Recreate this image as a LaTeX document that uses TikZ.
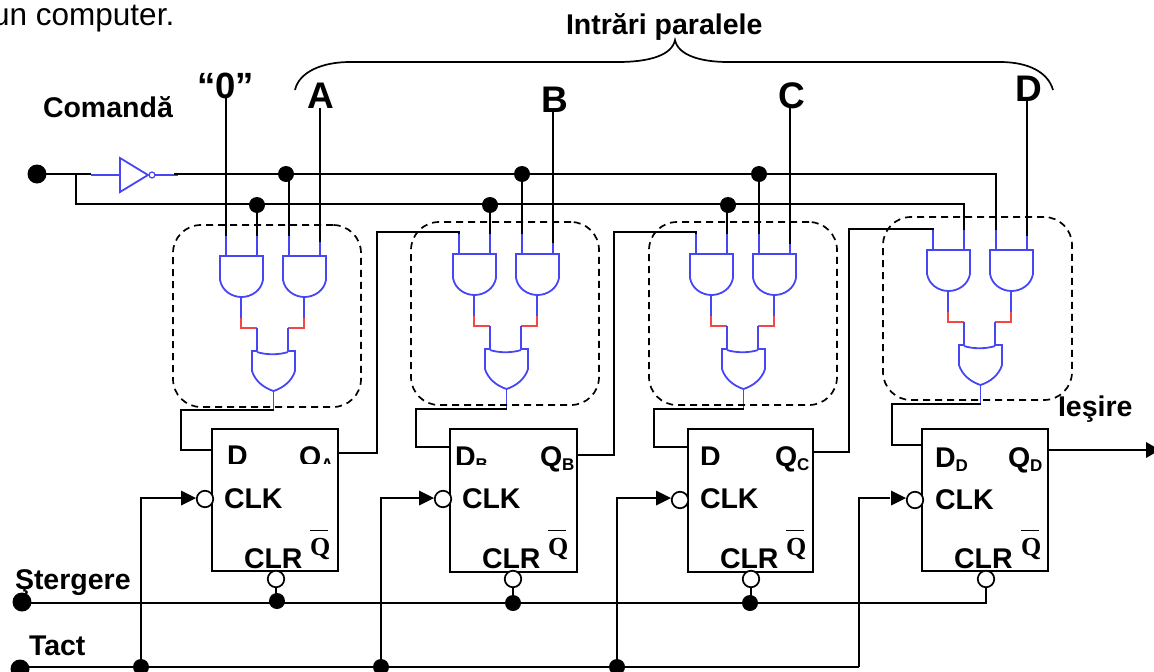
\documentclass[tikz,border=0pt]{standalone}
\usepackage{fontspec}
\setmainfont{Liberation Sans}
\newfontfamily\qfont{Liberation Serif}
\definecolor{gblue}{RGB}{70,70,245}
\definecolor{gred}{RGB}{245,70,70}
\newcommand{\fnt}{\fontsize{28.5}{30}\selectfont\bfseries}
\newcommand{\bigfnt}{\fontsize{37}{38}\selectfont\bfseries}
\newcommand{\sbs}[1]{{\fontsize{17}{17}\selectfont\bfseries\raisebox{-4pt}{#1}}}
\newcommand{\qbar}{{\fontsize{26}{27}\selectfont\qfont\bfseries\rlap{\raisebox{24pt}{\rule{18pt}{1.2pt}}}Q}}
\tikzset{
  x=1pt,y=-1pt,
  wire/.style={draw=black,line width=2pt,line join=miter},
  thick wire/.style={wire,line width=2.4pt},
  gate/.style={draw=gblue,line width=1.8pt},
  red wire/.style={draw=gred,line width=1.8pt},
  lab/.style={inner sep=0pt,outer sep=0pt,anchor=base west,font=\fnt},
  biglab/.style={inner sep=0pt,outer sep=0pt,anchor=base,font=\bigfnt},
  ffbox/.style={draw=black,line width=2pt,fill=none,inner sep=0pt,outer sep=0pt},
  groupbox/.style={draw=black,line width=1.7pt,dash pattern=on 7pt off 5pt,rounded corners=28pt,inner sep=0pt,outer sep=0pt},
  dot/.style={circle,fill=black,draw=none,inner sep=0pt,outer sep=0pt,minimum size=16pt},
  bigdot/.style={dot,minimum size=19pt},
  bubble/.style={circle,draw=black,fill=white,line width=1.7pt,inner sep=0pt,outer sep=0pt,minimum size=16.5pt},
  tip/.style={fill=black,draw=none},
  cell/.pic={
    % first AND gate
    \draw[gate] (-6,0) -- (37,0) -- (37,24) .. controls (35,35) and (25,41) .. (15.5,41) .. controls (6,41) and (-4,35) .. (-6,24) -- cycle;
    % second AND gate
    \draw[gate] (57,0) -- (100,0) -- (100,24) .. controls (98,35) and (88,41) .. (78.5,41) .. controls (69,41) and (59,35) .. (57,24) -- cycle;
    \coordinate (-a) at (0,-20);
    \coordinate (-b) at (31,-20);
    \coordinate (-c) at (63,-20);
    \coordinate (-d) at (94,-20);
    \draw[gate] (-a) -- (0,0);
    \draw[gate] (-b) -- (31,0);
    \draw[gate] (-c) -- (63,0);
    \draw[gate] (-d) -- (94,0);
    \draw[gate] (15,41) -- (15,62);
    \draw[gate] (78,41) -- (78,62);
    \draw[red wire] (15,62) -- (15,72) -- (31,72);
    \draw[red wire] (78,62) -- (78,72) -- (62,72);
    \draw[gate] (31,72) -- (31,95);
    \draw[gate] (62,72) -- (62,95);
    % OR gate
    \draw[gate] (31,95) -- (26,95) -- (26,115) .. controls (29,125) and (38,132) .. (47.5,135) .. controls (57,132) and (66,125) .. (69,115) -- (69,95) -- (62,95);
    \draw[gate] (31,96) .. controls (40,99) and (53,99) .. (62,96);
    \coordinate (-o) at (47.5,155);
    \draw[gate] (47.5,135) -- (-o);
  }
}
\begin{document}
\begin{tikzpicture}
\useasboundingbox (0,0) rectangle (1154,672);

% heading fragment
\node[inner sep=0pt,anchor=base west,font=\fontsize{31.5}{33}\selectfont] (frag) at (-8,25) {un computer.};

% gate groups
\pic (ca) at (226,256) {cell};
\pic (cb) at (459,254) {cell};
\pic (cc) at (696,254) {cell};
\pic (cd) at (933,250) {cell};

% dashed enclosures
\node[groupbox,minimum width=188pt,minimum height=182pt] (ga) at (267,316) {};
\node[groupbox,minimum width=188pt,minimum height=183pt] (gb) at (505,313.5) {};
\node[groupbox,minimum width=188pt,minimum height=183pt] (gc) at (743,313.5) {};
\node[groupbox,minimum width=189pt,minimum height=183pt] (gd) at (977.5,308.5) {};

% flip-flops
\node[ffbox,minimum width=126pt,minimum height=142pt] (ffa) at (275,500) {};
\node[ffbox,minimum width=127pt,minimum height=143pt] (ffb) at (513.5,500.5) {};
\node[ffbox,minimum width=125pt,minimum height=143pt] (ffc) at (750.5,500.5) {};
\node[ffbox,minimum width=126pt,minimum height=142pt] (ffd) at (985,500) {};

% flip-flop labels
\begin{scope}
  \clip (212,440) rectangle (338,463);
  \node[lab] (da) at (227,465) {D};
  \node[lab] (qa) at (299,466) {Q\sbs{A}};
\end{scope}
\begin{scope}
  \clip (450,440) rectangle (500,464);
  \node[lab] (db) at (455,466) {D\sbs{B}};
\end{scope}
\begin{scope}
  \clip (688,440) rectangle (760,464);
  \node[lab] (dc) at (700,466) {D};
\end{scope}
\node[lab] (qb) at (540,466) {Q\sbs{B}};
\node[lab] (qc) at (775,466) {Q\sbs{C}};
\node[lab] (dd) at (935,467) {D\sbs{D}};
\node[lab] (qd) at (1008,467) {Q\sbs{D}};
\node[lab] (clka) at (224,508) {CLK};
\node[lab] (clkb) at (462,508) {CLK};
\node[lab] (clkc) at (700,508) {CLK};
\node[lab] (clkd) at (935,509) {CLK};
\node[lab] (clra) at (244,568) {CLR};
\node[lab] (clrb) at (482,568) {CLR};
\node[lab] (clrc) at (720,568) {CLR};
\node[lab] (clrd) at (954,568) {CLR};
\node[lab] (nqa) at (310,555) {\qbar};
\node[lab] (nqb) at (548,555) {\qbar};
\node[lab] (nqc) at (786,555) {\qbar};
\node[lab] (nqd) at (1021,555) {\qbar};

% outer labels
\node[lab] (comanda) at (43,117) {Comandă};
\node[lab] (stergere) at (15,589) {Ştergere};
\node[lab] (tact) at (29,655) {Tact};
\node[lab] (iesire) at (1058,416) {Ieşire};
\node[lab] (paral) at (566,34) {Intrări paralele};
\node[biglab,font=\fontsize{36.5}{37}\selectfont\bfseries] (in0) at (225.5,98) {“0”};
\node[biglab] (ina) at (320.5,108) {A};
\node[biglab] (inb) at (554.5,112) {B};
\node[biglab] (inc) at (792,108) {C};
\node[biglab] (ind) at (1028.5,101) {D};

% brace
\coordinate (brl) at (295,90);
\coordinate (brtip) at (675,40);
\coordinate (brr) at (1053,90);
\draw[wire,line width=1.7pt] (brl) .. controls (299,72) and (322,62) .. (350,62) -- (618,62) .. controls (650,62) and (672,55) .. (brtip) .. controls (678,55) and (700,62) .. (728,62) -- (1000,62) .. controls (1028,62) and (1048,72) .. (brr);

% inverter
\coordinate (invin) at (91,175);
\coordinate (invout) at (178,175);
\draw[gate] (120,158) -- (120,192) -- (148,175) -- cycle;
\draw[gate] (invin) -- (120,175);
\draw[gate] (155,175) -- (invout);
\node[circle,draw=gblue,line width=1.2pt,inner sep=0pt,minimum size=6pt] (invb) at (152,175) {};

% command wires
\node[bigdot] (cmd) at (37,174) {};
\coordinate (brch) at (76,174);
\coordinate (lowc) at (76,204);
\coordinate (invend) at (174,174);
\draw[wire] (cmd.center) -- (91,174);
\draw[wire] (brch) -- (lowc) -| (cd-b);
\draw[wire] (invend) -| (cd-c);
\node[dot] (t1) at (286,174) {};
\node[dot] (t2) at (522,174) {};
\node[dot] (t3) at (759,174) {};
\node[dot] (l1) at (257,205) {};
\node[dot] (l2) at (490,205) {};
\node[dot] (l3) at (728,205) {};
\draw[wire] (ca-c |- t1.center) -- (ca-c);
\draw[wire] (cb-c |- t2.center) -- (cb-c);
\draw[wire] (cc-c |- t3.center) -- (cc-c);
\draw[wire] (ca-b |- l1.center) -- (ca-b);
\draw[wire] (cb-b |- l2.center) -- (cb-b);
\draw[wire] (cc-b |- l3.center) -- (cc-b);

% parallel inputs
\draw[wire] (ca-a |- in0.south) -- (ca-a);
\draw[wire,shorten >=-6pt] (ca-d |- ina.south) -- (ca-d);
\draw[wire,shorten >=-9pt] (cb-d |- inb.south) -- (cb-d);
\draw[wire,shorten >=-10pt] (cc-d |- inc.south) -- (cc-d);
\draw[wire,shorten >=-6pt] (cd-d |- ind.south) -- (cd-d);

% OR output to D input
\coordinate (wa) at (181,450);
\coordinate (wb) at (416,447);
\coordinate (wc) at (654,447);
\coordinate (wd) at (892,445);
\draw[wire] (ca-o) ++(0,-1) -| (wa) -- (ffa.west |- wa);
\draw[wire] (cb-o) -| (wb) -- (ffb.west |- wb);
\draw[wire] (cc-o) -| (wc) -- (ffc.west |- wc);
\draw[wire] (cd-o) ++(0,-1) -| (wd) -- (ffd.west |- wd);

% Q outputs to next stage
\coordinate (oa) at (338,453);
\coordinate (ob) at (577,455);
\coordinate (oc) at (813,452);
\coordinate (ua) at (377,232);
\coordinate (ub) at (614,232);
\coordinate (uc) at (849,229);
\draw[wire] (oa) -| (ua) -| (cb-a);
\draw[wire] (ob) -| (ub) -| (cc-a);
\draw[wire] (oc) -| (uc) -| (cd-a);
\coordinate (od) at (1048,450);
\coordinate (outd) at (1147,450);
\draw[thick wire] (od) -- (outd);
\fill[tip] (1146,442) -- (1146,458) -- (1160,450) -- cycle;

% clock
\node[bigdot] (tactin) at (20,669) {};
\coordinate (clke) at (859,667);
\draw[thick wire] (tactin.center) -- (20,667) -- (clke);
\node[dot] (c1) at (141,667) {};
\node[dot] (c2) at (381,667) {};
\node[dot] (c3) at (617,667) {};
\node[bubble] (ba) at (205,499) {};
\node[bubble] (bb) at (443,499) {};
\node[bubble] (bc) at (680,500) {};
\node[bubble] (bd) at (915,500) {};
\foreach \s/\x/\y/\t in {c1/142/498/196,c2/379/498/434,c3/617/498/671}{
  \draw[thick wire] (\s.center) |- (\t-7,\y);
  \fill[tip] (\t-15,\y-7.5) -- (\t-15,\y+7.5) -- (\t,\y) -- cycle;
}
\draw[thick wire] (clke) |- (890,498);
\fill[tip] (891,490.5) -- (891,505.5) -- (906,498) -- cycle;

% clear
\node[bigdot] (sin) at (22,602) {};
\coordinate (send) at (986,603);
\node[bubble] (ra) at (276,579) {};
\node[bubble] (rb) at (513,579) {};
\node[bubble] (rc) at (751,579) {};
\node[bubble] (rd) at (986,579) {};
\draw[wire] (sin.center) -- (22,603) -- (send) -- (rd.south);
\node[dot] (s1) at (277,601) {};
\node[dot] (s2) at (513,603) {};
\node[dot] (s3) at (750,603) {};
\draw[wire] (ra.south |- s1.center) -- (ra.south);
\draw[wire] (s2.center) -- (rb.south);
\draw[wire] (rc.south |- s3.center) -- (rc.south);
\end{tikzpicture}
\end{document}
